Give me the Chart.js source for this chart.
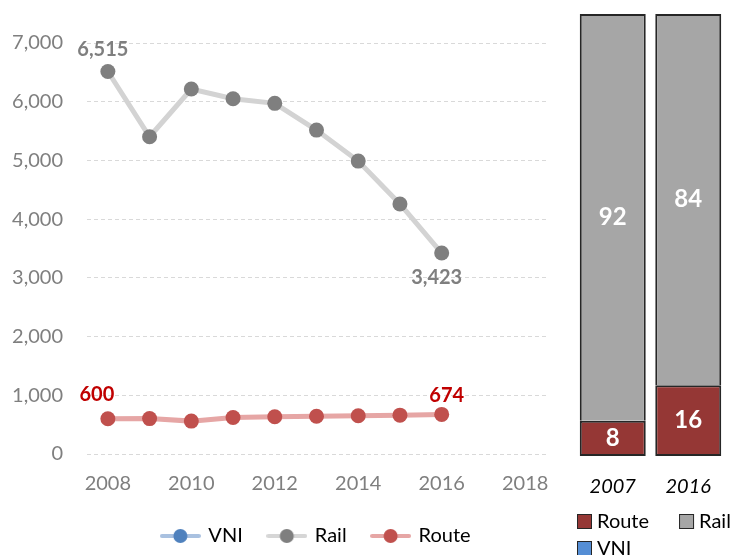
<!DOCTYPE html>
<html lang="en">
<head>
  <meta charset="UTF-8" />
  <title>Rail vs Route</title>
  <style>
    html, body { margin: 0; padding: 0; background: #fff; overflow: hidden; }
    .wrap { position: relative; width: 734px; height: 555px; overflow: hidden; }
    #trendChart { position: absolute; left: 0; top: 0; }
    #shareChart { position: absolute; left: 560px; top: 0; }
  </style>
</head>
<body>
  <div class="wrap">
    <canvas id="trendChart" width="560" height="556"></canvas>
    <canvas id="shareChart" width="174" height="555"></canvas>
  </div>

  <script src="https://cdn.jsdelivr.net/npm/chart.js"></script>
  <script>
    // left chart data
    const years = [2008, 2009, 2010, 2011, 2012, 2013, 2014, 2015, 2016];
    const vniValues = [];
    const railValues = [6515, 5403, 6216, 6051, 5972, 5517, 4989, 4259, 3423];
    const routeValues = [600, 603, 560, 622, 634, 644, 651, 662, 674];
    const xTicks = [2008, 2010, 2012, 2014, 2016, 2018];
    const yTicks = [0, 1000, 2000, 3000, 4000, 5000, 6000, 7000];

    // right chart data (shares, %)
    const shareYears = ["2007", "2016"];
    const shareRoute = [8, 16];
    const shareRail = [92, 84];
    const shareVni = [0, 0];

    Chart.defaults.font.family = "Lato, 'Open Sans', sans-serif";
    Chart.defaults.animation = false;

    const fmt = v => v.toLocaleString("en-US");

    // legend icon: short line with a dot in the middle
    function lineIcon(lineColor, dotColor) {
      const c = document.createElement("canvas");
      c.width = 41; c.height = 16;
      const g = c.getContext("2d");
      g.strokeStyle = lineColor;
      g.lineWidth = 4;
      g.lineCap = "round";
      g.beginPath(); g.moveTo(2, 8); g.lineTo(39, 8); g.stroke();
      g.fillStyle = dotColor;
      g.beginPath(); g.arc(20.5, 8, 7, 0, Math.PI * 2); g.fill();
      return c;
    }
    const legendIcons = [
      lineIcon("#a9c1e0", "#4f81bd"),
      lineIcon("#d6d6d6", "#7f7f7f"),
      lineIcon("#e6a6a5", "#c0504d")
    ];

    // value labels on first/last points
    const pointLabels = [
      { ds: 1, i: 0, color: "#7f7f7f", dx: -5, dy: -22 },
      { ds: 1, i: 8, color: "#7f7f7f", dx: -5, dy: 25 },
      { ds: 2, i: 0, color: "#c00000", dx: -11, dy: -24 },
      { ds: 2, i: 8, color: "#c00000", dx: 5, dy: -19 }
    ];

    const pointLabelPlugin = {
      id: "pointLabels",
      afterDatasetsDraw(chart) {
        const ctx = chart.ctx;
        ctx.save();
        ctx.font = "bold 20px Lato, sans-serif";
        ctx.textAlign = "center";
        ctx.textBaseline = "middle";
        pointLabels.forEach(l => {
          const el = chart.getDatasetMeta(l.ds).data[l.i];
          const val = chart.data.datasets[l.ds].data[l.i].y;
          ctx.fillStyle = l.color;
          ctx.fillText(fmt(val), el.x + l.dx, el.y + l.dy);
        });
        ctx.restore();
      }
    };

    const toXY = vals => vals.map((v, i) => ({ x: years[i], y: v }));

    new Chart(document.getElementById("trendChart"), {
      type: "line",
      data: {
        datasets: [
          {
            label: "VNI",
            data: toXY(vniValues),
            borderColor: "#a9c1e0",
            backgroundColor: "#4f81bd",
            borderWidth: 5
          },
          {
            label: "Rail",
            data: toXY(railValues),
            borderColor: "#d3d3d3",
            borderWidth: 5,
            pointRadius: 7.5,
            pointBorderWidth: 0,
            pointBackgroundColor: "#7f7f7f",
            tension: 0
          },
          {
            label: "Route",
            data: toXY(routeValues),
            borderColor: "#e6a6a5",
            borderWidth: 5,
            pointRadius: 7.5,
            pointBorderWidth: 0,
            pointBackgroundColor: "#c0504d",
            tension: 0
          }
        ]
      },
      options: {
        responsive: false,
        layout: { padding: { top: 43, left: 0, right: 14, bottom: 0 } },
        plugins: {
          tooltip: { enabled: false },
          legend: {
            position: "bottom",
            fullSize: false,
            labels: {
              usePointStyle: true,
              pointStyleWidth: 36,
              padding: 26,
              color: "#000",
              font: { size: 20 },
              generateLabels(chart) {
                const items = Chart.defaults.plugins.legend.labels.generateLabels(chart);
                items.forEach((it, k) => { it.pointStyle = legendIcons[k]; });
                return items;
              }
            }
          }
        },
        scales: {
          x: {
            type: "linear",
            min: 2007.5,
            max: 2018.5,
            afterBuildTicks: s => { s.ticks = xTicks.map(v => ({ value: v })); },
            afterFit: s => { s.height = 46; },
            grid: { display: false },
            border: { display: false },
            ticks: {
              color: "#7f7f7f",
              font: { size: 20 },
              padding: 9.5,
              maxRotation: 0,
              callback: v => String(v)
            }
          },
          y: {
            min: 0,
            max: 7000,
            afterBuildTicks: s => { s.ticks = yTicks.map(v => ({ value: v })); },
            afterFit: s => { s.width = 87; },
            grid: { color: "#d9d9d9", lineWidth: 1, drawTicks: false },
            border: { display: false, dash: [4, 3] },
            ticks: {
              color: "#7f7f7f",
              font: { size: 20 },
              padding: 24,
              callback: v => fmt(v)
            }
          }
        }
      },
      plugins: [pointLabelPlugin]
    });

    // right chart: 100% stacked bars
    const barValuePlugin = {
      id: "barValues",
      afterDatasetsDraw(chart) {
        const ctx = chart.ctx;
        ctx.save();
        ctx.font = "bold 24px Lato, sans-serif";
        ctx.fillStyle = "#fff";
        ctx.textAlign = "center";
        ctx.textBaseline = "middle";
        chart.data.datasets.forEach((ds, d) => {
          chart.getDatasetMeta(d).data.forEach((bar, i) => {
            const v = ds.data[i];
            if (!v) return;
            ctx.fillText(String(v), bar.x, (bar.y + bar.base) / 2);
          });
        });
        ctx.restore();
      }
    };

    // square legend that wraps and stays left aligned
    const squareLegendPlugin = {
      id: "squareLegend",
      afterDraw(chart) {
        const ctx = chart.ctx;
        const box = 15, gap = 5, itemGap = 30, rowH = 27;
        let x = 17, y = 521.5;
        ctx.save();
        ctx.font = "20px Lato, sans-serif";
        ctx.textBaseline = "middle";
        chart.data.datasets.forEach(ds => {
          const w = box + gap + ctx.measureText(ds.label).width;
          if (x > 17 && x + w > chart.width) { x = 17; y += rowH; }
          ctx.fillStyle = ds.backgroundColor;
          ctx.fillRect(x, y - box / 2, box, box);
          ctx.strokeStyle = "#262626";
          ctx.lineWidth = 1;
          ctx.strokeRect(x + 0.5, y - box / 2 + 0.5, box - 1, box - 1);
          ctx.fillStyle = "#000";
          ctx.fillText(ds.label, x + box + gap, y);
          x += w + itemGap;
        });
        ctx.restore();
      }
    };

    new Chart(document.getElementById("shareChart"), {
      type: "bar",
      data: {
        labels: shareYears,
        datasets: [
          {
            label: "Route",
            data: shareRoute,
            backgroundColor: "#953735",
            borderColor: "#262626",
            borderWidth: { top: 2, left: 2, right: 2, bottom: 2 },
            borderSkipped: false
          },
          {
            label: "Rail",
            data: shareRail,
            backgroundColor: "#a6a6a6",
            borderColor: "#262626",
            borderWidth: { top: 2, left: 2, right: 2, bottom: 0 },
            borderSkipped: false
          },
          {
            label: "VNI",
            data: shareVni,
            backgroundColor: "#558ed5",
            borderWidth: 0
          }
        ]
      },
      options: {
        responsive: false,
        layout: { padding: { top: 14, left: 15, right: 8, bottom: 54 } },
        datasets: { bar: { categoryPercentage: 1, barPercentage: 0.874 } },
        plugins: { legend: { display: false }, tooltip: { enabled: false } },
        scales: {
          x: {
            stacked: true,
            grid: { display: false },
            border: { display: false },
            afterFit: s => { s.height = 45; },
            ticks: {
              color: "#000",
              font: { size: 20, style: "italic" },
              padding: 11
            }
          },
          y: {
            stacked: true,
            display: false,
            min: 0,
            max: 100
          }
        }
      },
      plugins: [barValuePlugin, squareLegendPlugin]
    });
  </script>
</body>
</html>
